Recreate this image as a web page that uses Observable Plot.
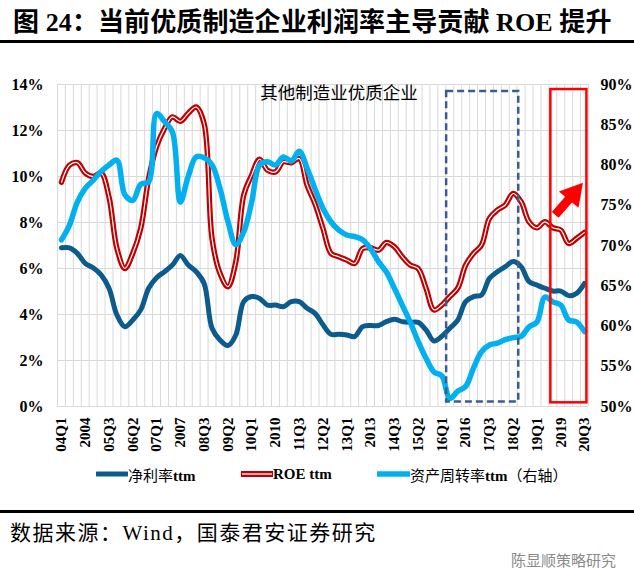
<!DOCTYPE html>
<html><head><meta charset="utf-8">
<script src="https://cdn.jsdelivr.net/npm/d3@7"></script>
<script src="https://cdn.jsdelivr.net/npm/@observablehq/plot@0.6"></script>
<style>
html,body{margin:0;padding:0;background:#fff;}
body{width:634px;height:587px;position:relative;overflow:hidden;font-family:"Liberation Serif","Noto Sans CJK SC",serif;color:#000;}
#title{position:absolute;left:13px;top:8px;font-size:26px;line-height:30px;font-weight:bold;white-space:nowrap;letter-spacing:0.1px;font-family:"Liberation Serif","Noto Sans CJK SC",serif;}
#rule1{position:absolute;left:0;top:40px;width:634px;height:3px;background:#000;}
#chart{position:absolute;left:0;top:60px;}
.leg{position:absolute;top:466px;height:16px;display:flex;align-items:center;font-size:15px;white-space:nowrap;}
.leg span{font-family:"Liberation Serif","Noto Sans CJK SC",serif;}
.leg b{font-weight:bold;font-family:"Liberation Serif",serif;}
#rule2{position:absolute;left:0;top:510px;width:634px;height:2.5px;background:#000;}
#source{position:absolute;left:10px;top:521px;font-size:21px;line-height:24px;white-space:nowrap;letter-spacing:1.5px;}
#wm{position:absolute;left:511px;top:551px;font-size:15px;line-height:18px;color:#8a8a8a;font-family:"Noto Sans CJK SC",sans-serif;white-space:nowrap;}
</style></head><body>
<div id="title">图 24：当前优质制造企业利润率主导贡献 ROE 提升</div>
<div id="rule1"></div>
<div id="chart"></div>
<div class="leg" style="left:96px;"><svg width="32" height="8"><line x1="1" y1="4" x2="31" y2="4" stroke="#0B5B8C" stroke-width="5" stroke-linecap="round"/></svg><span>净利率<b>ttm</b></span></div>
<div class="leg" style="left:241px;"><svg width="32" height="8"><line x1="1" y1="4" x2="31" y2="4" stroke="#C00000" stroke-width="6" stroke-linecap="round"/><line x1="1" y1="4" x2="31" y2="4" stroke="#fff" stroke-width="1.3"/></svg><span><b>ROE ttm</b></span></div>
<div class="leg" style="left:377px;"><svg width="33" height="8"><line x1="1" y1="4" x2="32" y2="4" stroke="#00B0F0" stroke-width="5.5" stroke-linecap="round"/></svg><span>资产周转率<b>ttm</b>（右轴）</span></div>
<div id="rule2"></div>
<div id="source">数据来源：Wind，国泰君安证券研究</div>
<div id="wm">陈显顺策略研究</div>
<script>
const quarters = ["04Q1","04Q2","04Q3","04Q4","05Q1","05Q2","05Q3","05Q4","06Q1","06Q2","06Q3","06Q4",
"07Q1","07Q2","07Q3","07Q4","08Q1","08Q2","08Q3","08Q4","09Q1","09Q2","09Q3","09Q4",
"10Q1","10Q2","10Q3","10Q4","11Q1","11Q2","11Q3","11Q4","12Q1","12Q2","12Q3","12Q4",
"13Q1","13Q2","13Q3","13Q4","14Q1","14Q2","14Q3","14Q4","15Q1","15Q2","15Q3","15Q4",
"16Q1","16Q2","16Q3","16Q4","17Q1","17Q2","17Q3","17Q4","18Q1","18Q2","18Q3","18Q4",
"19Q1","19Q2","19Q3","19Q4","20Q1","20Q2","20Q3"];
const tickQuarters = ["04Q1","04Q4","05Q3","06Q2","07Q1","07Q4","08Q3","09Q2","10Q1","10Q4","11Q3","12Q2","13Q1","13Q4","14Q3","15Q2","16Q1","16Q4","17Q3","18Q2","19Q1","19Q4","20Q3"];
const tickLabels = ["04Q1","2004","05Q3","06Q2","07Q1","2007","08Q3","09Q2","10Q1","2010","11Q3","12Q2","13Q1","2013","14Q3","15Q2","16Q1","2016","17Q3","18Q2","19Q1","2019","20Q3"];
// 净利率ttm (%), left axis
const netMargin = [6.90,6.90,6.66,6.22,6.03,5.72,5.14,3.98,3.47,3.76,4.20,5.14,
5.60,5.86,6.15,6.56,6.15,5.86,5.35,3.40,2.89,2.65,3.11,4.56,
4.78,4.70,4.41,4.41,4.34,4.56,4.56,4.27,4.05,3.55,3.14,3.14,
3.11,3.04,3.47,3.52,3.52,3.69,3.79,3.69,3.66,3.66,3.33,2.85,
3.05,3.40,3.76,4.56,4.78,4.85,5.57,5.86,6.08,6.30,6.08,5.43,
5.28,5.14,5.02,5.02,4.82,4.92,5.35];
// ROE ttm (%), left axis
const roe = [9.75,10.49,10.60,10.15,10.00,10.15,9.10,6.87,6.00,6.66,7.74,9.91,
11.30,12.08,12.59,12.40,12.75,13.02,12.30,7.30,5.79,5.21,6.30,9.19,
10.06,10.75,10.27,10.20,10.64,10.60,10.78,9.62,8.80,7.74,6.66,6.51,
6.37,6.22,6.87,6.90,6.80,7.13,6.95,6.51,6.15,6.00,5.14,4.20,
4.41,4.78,5.14,6.15,6.66,7.02,8.18,8.54,8.76,9.26,8.90,8.03,
7.77,8.03,7.77,7.67,7.09,7.31,7.57];
// 资产周转率ttm (%), right axis
const assetTurnover = [70.7,72.5,75.4,77.1,78.1,79.2,80.0,80.6,76.3,75.6,77.6,77.9,
86.4,85.4,84.1,75.4,78.6,81.0,80.9,80.0,77.1,73.0,70.1,71.7,
75.4,80.0,80.4,80.0,81.0,80.5,81.7,79.6,77.0,74.6,72.95,71.9,
71.3,71.1,70.7,69.6,68.0,66.7,64.7,62.6,60.5,58.1,56.0,54.3,
53.8,51.0,51.9,52.5,54.8,56.8,57.65,57.86,58.3,58.56,58.7,59.9,
60.5,63.6,63.0,62.6,60.75,60.5,59.3];
const leftTicks = [0,2,4,6,8,10,12,14];
const rightTicks = [50,55,60,65,70,75,80,85,90];
// annotations, in quarter-index / left-axis units
const dashedBox = [{x1:48.6, x2:57.7, y1:0.2, y2:13.7}];
const redBox = [{x1:61.75, x2:66.3, y1:0.16, y2:13.78}];
const arrowShaft = [{x1:62.3, y1:8.33, x2:64.3, y2:9.12}];
const arrowHead = [{x:64.6, y:9.24}];
const subTitle = ["其他制造业优质企业"];

const toLeft = v => (v - 50) * 14 / 40;
const data = quarters.map((q, i) => ({i, q, nm: netMargin[i], roe: roe[i], at: toLeft(assetTurnover[i])}));
const gridX = quarters.map((q, i) => i - 0.5).concat([quarters.length - 0.5]);
const tickIdx = tickQuarters.map(q => quarters.indexOf(q));

const plot = Plot.plot({
  width: 634, height: 401,
  marginTop: 24, marginBottom: 55, marginLeft: 57, marginRight: 46,
  style: {fontFamily: "'Liberation Serif','Noto Sans CJK SC',serif", fontSize: "15px", fontWeight: "bold", color: "#000", background: "transparent"},
  x: {domain: [-0.5, quarters.length - 0.5], axis: null},
  y: {domain: [0, 14], axis: null},
  marks: [
    Plot.ruleY(leftTicks, {stroke: "#d9d9d9", strokeWidth: 1}),
    Plot.ruleX(gridX, {stroke: "#d9d9d9", strokeWidth: 1}),
    Plot.axisY({ticks: leftTicks, tickFormat: d => d + "%", tickSize: 0, tickPadding: 14, fontSize: 16, label: null}),
    Plot.axisY({anchor: "right", ticks: rightTicks.map(toLeft), tickFormat: d => Math.round(50 + d * 40 / 14) + "%", tickSize: 0, tickPadding: 12, fontSize: 16, label: null}),
    Plot.axisX({ticks: tickIdx, tickFormat: i => tickLabels[tickIdx.indexOf(i)], tickRotate: -90, tickSize: 0, tickPadding: 11, fontSize: 15, label: null}),
    Plot.text(subTitle, {frameAnchor: "top", dx: 16, dy: 2, fontSize: 17.5, fontWeight: "normal", fontFamily: "'Noto Sans CJK SC',sans-serif", fill: "#000"}),
    Plot.line(data, {x: "i", y: "nm", stroke: "#0B5B8C", strokeWidth: 5, curve: "catmull-rom"}),
    Plot.line(data, {x: "i", y: "roe", stroke: "#C00000", strokeWidth: 5.5, curve: "catmull-rom"}),
    Plot.line(data, {x: "i", y: "roe", stroke: "#ffffff", strokeWidth: 1.2, curve: "catmull-rom"}),
    Plot.line(data, {x: "i", y: "at", stroke: "#00B0F0", strokeWidth: 5.5, curve: "catmull-rom"}),
    Plot.rect(dashedBox, {x1: "x1", x2: "x2", y1: "y1", y2: "y2", fill: "none", stroke: "#3D5C8C", strokeWidth: 2.5, strokeDasharray: "7,4"}),
    Plot.rect(redBox, {x1: "x1", x2: "x2", y1: "y1", y2: "y2", fill: "none", stroke: "#FF0000", strokeWidth: 2.5}),
    Plot.link(arrowShaft, {x1: "x1", y1: "y1", x2: "x2", y2: "y2", stroke: "#FF0000", strokeWidth: 9, strokeLinecap: "butt"}),
    Plot.dot(arrowHead, {x: "x", y: "y", symbol: "triangle", r: 9.5, fill: "#FF0000", stroke: "none", rotate: 40})
  ]
});
document.getElementById("chart").appendChild(plot);
</script>
</body></html>
